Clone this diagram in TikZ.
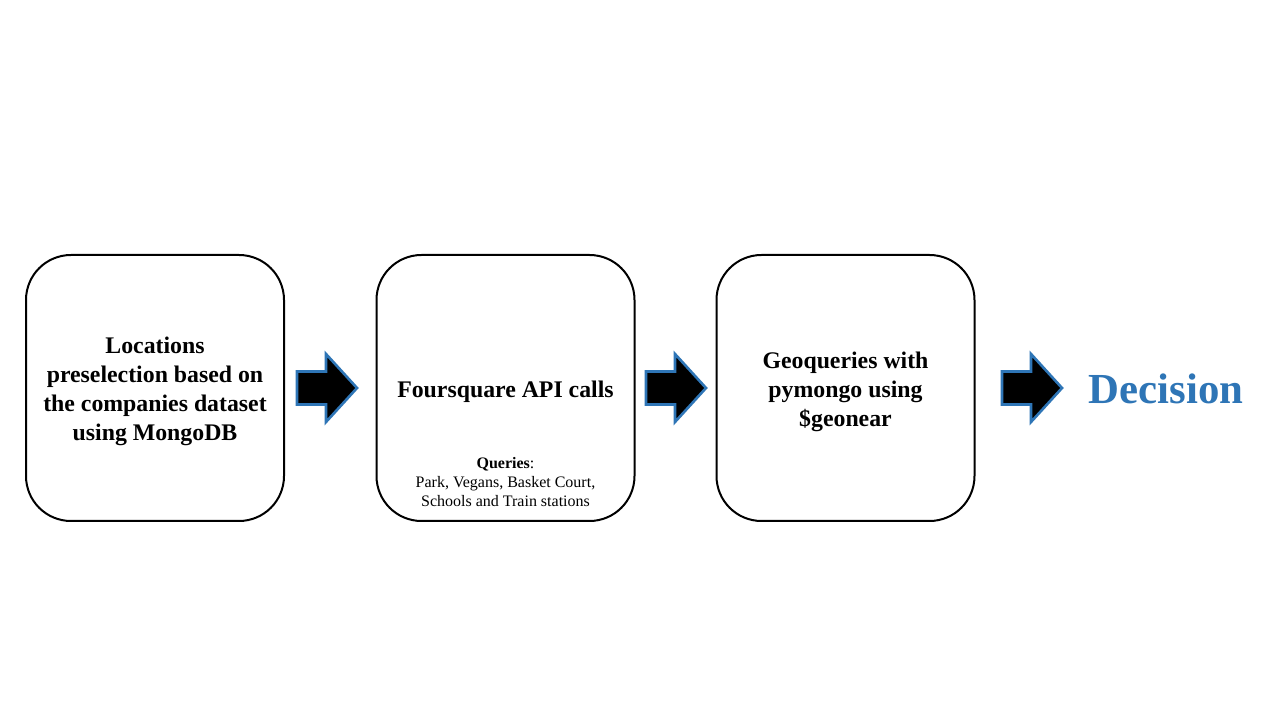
\documentclass[tikz,border=0pt]{standalone}
\usepackage{fontspec}
\setmainfont{Liberation Serif}
\definecolor{arrblue}{HTML}{2E75B6}
\begin{document}
\begin{tikzpicture}[x=1pt,y=1pt,line join=round,
	stepbox/.style={draw,line width=2pt,rounded corners=45pt,minimum width=258pt,minimum height=266pt},
	boxtext/.style={align=center,font=\fontsize{23.8}{29}\selectfont\bfseries},
	blockarr/.style={fill=black,draw=arrblue,line width=2.6pt,line join=miter}]
	\useasboundingbox[fill=white] (0,0) rectangle (1280,720);
	\path (155,332) coordinate (C1)
	(505.5,332) coordinate (C2)
	(845.5,332) coordinate (C3)
	(297,332) coordinate (A1)
	(646,332) coordinate (A2)
	(1002,332) coordinate (A3)
	;
	\node[stepbox] (loc) at (C1) {};
	\node[stepbox] (four) at (C2) {};
	\node[stepbox] (geo) at (C3) {};
	
	\node[boxtext] (loctext) at ([yshift=-3pt]loc) {Locations\\preselection based on\\the companies dataset\\using MongoDB};
	\node[boxtext] (fourtext) at ([yshift=-4pt]four) {Foursquare API calls};
	\node[align=center,font=\fontsize{16}{19}\selectfont] (queries) at (505.5,238) {\textbf{Queries}:\\Park, Vegans, Basket Court,\\Schools and Train stations};
	\node[boxtext] (geotext) at ([yshift=-4pt]geo) {Geoqueries with\\pymongo using\\\$geonear};
	\node[font=\fontsize{42.8}{48}\selectfont\bfseries,text=arrblue] (decision) at (1166,331) {Decision};
	
	\foreach \p in {A1,A2,A3}
	\draw[blockarr] (\p) ++(0,-16.5) -- ++(29,0) -- ++(0,-17.5) -- ++(31,34) -- ++(-31,34) -- ++(0,-17.5) -- ++(-29,0) -- cycle;
\end{tikzpicture}
\end{document}
